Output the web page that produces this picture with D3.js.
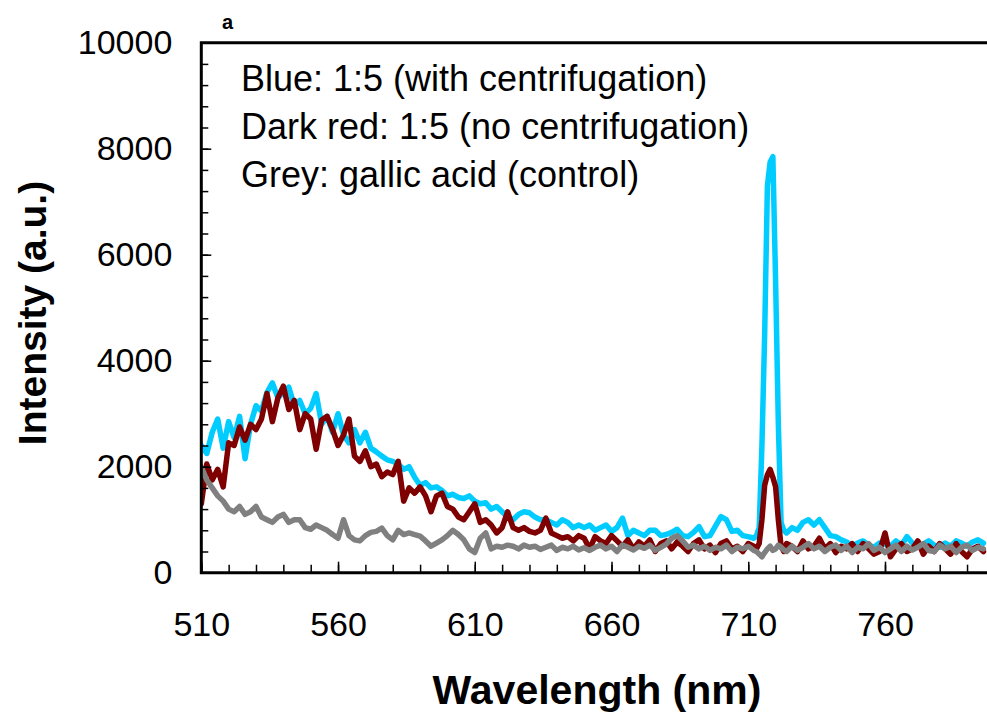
<!DOCTYPE html>
<html>
<head>
<meta charset="utf-8">
<title>Emission spectra</title>
<script src="https://cdn.jsdelivr.net/npm/d3@7"></script>
<style>
  body { margin: 0; background: #fff; }
  svg { display: block; font-family: Arial, "Liberation Sans", sans-serif; }
</style>
</head>
<body>
<div id="chart"></div>
<script>
// wavelength grid (nm): 2 nm steps, 1 nm steps around the 718 nm line
var wavelengths = d3.range(510, 712, 2).concat(d3.range(712, 724, 1), d3.range(724, 798, 2));

// Blue: 1:5 (with centrifugation)
var blueSeries = [
  2400, 2250, 2650, 2900, 2350, 2850, 2550, 2950, 2150, 2800,
  3150, 3050, 3400, 3580, 3300, 3400, 3500, 3150, 3250, 3000,
  3100, 3380, 2800, 2950, 2650, 3000, 2600, 2450, 2700, 2450,
  2650, 2350, 2280, 2200, 2130, 2100, 2050, 1950, 2000, 1800,
  1650, 1700, 1600, 1620, 1550, 1450, 1480, 1420, 1400, 1450,
  1350, 1300, 1320, 1200, 1250, 1150, 1050, 1000, 1100, 1150,
  1130, 1050, 1000, 1000, 950, 900, 1000, 950, 850, 900,
  850, 900, 800, 850, 900, 780, 850, 1030, 700, 800,
  750, 700, 800, 800, 700, 720, 760, 820, 700, 680,
  760, 870, 680, 700, 880, 1060, 1000, 780, 800, 700,
  680,
  // 712 .. 723
  650, 700, 850, 2400, 4500, 7300, 7750, 7850, 5500, 2800, 950, 800,
  // 724 .. 796
  750, 850, 800, 950, 1000, 900, 1000, 850, 700, 680,
  620, 580, 500, 560, 600, 520, 480, 560, 540, 500,
  600, 520, 680, 560, 500, 540, 600, 520, 480, 560,
  500, 600, 560, 500, 580, 620, 560
];

// Dark red: 1:5 (no centrifugation)
var redSeries = [
  1300, 2050, 1750, 1950, 1620, 2450, 2400, 2750, 2500, 2800,
  2700, 2900, 3380, 2850, 3300, 3520, 3080, 3250, 2700, 3000,
  2900, 2330, 2880, 2950, 2700, 2400, 2600, 2900, 2200, 2100,
  2300, 2000, 2050, 1810, 1900, 1850, 2100, 1350, 1600, 1500,
  1620, 1450, 1150, 1450, 1500, 1250, 1200, 1050, 1000, 1150,
  1300, 950, 1000, 900, 750, 850, 1150, 850, 800, 850,
  780, 750, 800, 1030, 750, 700, 650, 680, 600, 700,
  650, 450, 680, 600, 550, 700, 600, 500, 620, 450,
  580, 500, 620, 400, 550, 600, 450, 580, 500, 400,
  550, 620, 450, 520, 380, 550, 600, 450, 500, 400,
  550,
  // 712 .. 723
  500, 450, 550, 1000, 1650, 1850, 1950, 1800, 1620, 1000, 500, 400,
  // 724 .. 796
  550, 500, 400, 600, 450, 500, 650, 450, 550, 380,
  500, 450, 550, 400, 550, 450, 350, 400, 750, 300,
  450, 550, 400, 450, 600, 350, 500, 400, 550, 450,
  350, 550, 400, 300, 450, 500, 400
];

// Grey: gallic acid (control)
var greySeries = [
  2000, 1750, 1600, 1450, 1350, 1200, 1150, 1250, 1100, 1150,
  1250, 1050, 1000, 950, 1050, 1100, 950, 1000, 1000, 850,
  820, 900, 850, 800, 720, 650, 1000, 700, 620, 600,
  700, 760, 780, 840, 700, 620, 800, 720, 750, 720,
  690, 600, 500, 560, 620, 700, 800, 720, 620, 450,
  380, 650, 750, 450, 500, 480, 520, 500, 450, 520,
  480, 500, 440, 480, 520, 420, 480, 450, 500, 430,
  470, 420, 480, 520, 450, 500, 400, 520, 480, 430,
  500, 460, 520, 420, 480, 540, 650, 700, 600, 480,
  520, 450, 500, 420, 480, 450, 520, 400, 480, 450,
  500,
  // 712 .. 723
  420, 400, 350, 300, 380, 450, 500, 420, 450, 520, 480, 430,
  // 724 .. 796
  400, 500, 420, 480, 550, 450, 500, 400, 480, 520,
  420, 500, 380, 480, 450, 550, 420, 480, 380, 450,
  520, 400, 500, 430, 480, 550, 420, 400, 520, 450,
  500, 380, 480, 520, 420, 480, 450
];

var seriesList = [
  { name: "blue", values: blueSeries, color: "#00ccff" },
  { name: "darkred", values: redSeries, color: "#7f0000" },
  { name: "grey", values: greySeries, color: "#808080" }
];

var legendLines = [
  "Blue: 1:5 (with centrifugation)",
  "Dark red: 1:5 (no centrifugation)",
  "Grey: gallic acid (control)"
];

var xMajorTicks = [510, 560, 610, 660, 710, 760];
var xMinorTicks = d3.range(510, 797, 10);
var yMajorTicks = [0, 2000, 4000, 6000, 8000, 10000];
var yMinorTicks = d3.range(0, 10001, 400);

var w = 987, h = 719;
var plotLeft = 201.3, plotRight = 987, plotTop = 42.7, plotBottom = 572.7;

var x = d3.scaleLinear().domain([510, 797.3]).range([plotLeft, plotRight]);
var y = d3.scaleLinear().domain([0, 10000]).range([plotBottom, plotTop]);

var svg = d3.select("#chart").append("svg").attr("width", w).attr("height", h);

svg.append("clipPath").attr("id", "plotclip")
  .append("rect")
  .attr("x", plotLeft).attr("y", plotTop - 5)
  .attr("width", plotRight - plotLeft).attr("height", plotBottom - plotTop + 5);

// lines
var line = d3.line()
  .x(function(d, i) { return x(wavelengths[i]); })
  .y(function(d) { return y(d); });

svg.append("g").attr("clip-path", "url(#plotclip)")
  .selectAll("path")
  .data(seriesList)
  .enter()
  .append("path")
  .attr("d", function(s) { return line(s.values); })
  .attr("fill", "none")
  .attr("stroke", function(s) { return s.color; })
  .attr("stroke-width", 5.5)
  .attr("stroke-linejoin", "round")
  .attr("stroke-linecap", "round");

// inward ticks
function tickAxis(axis, translate, size) {
  var g = svg.append("g").attr("transform", translate).call(axis.tickSize(size).tickFormat(""));
  g.select(".domain").remove();
  g.selectAll("line").attr("stroke", "#000").attr("stroke-width", 1.5);
  return g;
}
tickAxis(d3.axisTop(x).tickValues(xMinorTicks), "translate(0," + plotBottom + ")", 8);
tickAxis(d3.axisTop(x).tickValues(xMajorTicks), "translate(0," + plotBottom + ")", 11);
tickAxis(d3.axisRight(y).tickValues(yMinorTicks), "translate(" + plotLeft + ",0)", 7);
tickAxis(d3.axisRight(y).tickValues(yMajorTicks), "translate(" + plotLeft + ",0)", 10);

// tick labels
var xLab = svg.append("g").attr("transform", "translate(0," + plotBottom + ")")
  .call(d3.axisBottom(x).tickValues(xMajorTicks).tickSize(0).tickPadding(39).tickFormat(d3.format("d")));
xLab.select(".domain").remove();
xLab.selectAll("text").attr("font-size", 34).attr("font-family", "Arial, 'Liberation Sans', sans-serif").attr("fill", "#000");

var yLab = svg.append("g").attr("transform", "translate(" + plotLeft + ",0)")
  .call(d3.axisLeft(y).tickValues(yMajorTicks).tickSize(0).tickPadding(29).tickFormat(d3.format("d")));
yLab.select(".domain").remove();
yLab.selectAll("text").attr("font-size", 34).attr("font-family", "Arial, 'Liberation Sans', sans-serif").attr("fill", "#000");

// frame: left, bottom, top
svg.append("path")
  .attr("d", "M" + plotRight + "," + plotTop + "H" + plotLeft + "V" + plotBottom + "H" + plotRight)
  .attr("fill", "none")
  .attr("stroke", "#000")
  .attr("stroke-width", 3);

// axis titles
svg.append("text")
  .attr("x", 597).attr("y", 704)
  .attr("text-anchor", "middle")
  .attr("font-size", 41).attr("font-weight", "bold")
  .text("Wavelength (nm)");

svg.append("text")
  .attr("transform", "translate(46,313) rotate(-90)")
  .attr("text-anchor", "middle")
  .attr("font-size", 39).attr("font-weight", "bold")
  .text("Intensity (a.u.)");

// panel letter
svg.append("text")
  .attr("x", 222).attr("y", 29)
  .attr("font-size", 20).attr("font-weight", "bold")
  .text("a");

// legend text
svg.selectAll(".legend")
  .data(legendLines)
  .enter()
  .append("text")
  .attr("class", "legend")
  .attr("x", 241)
  .attr("y", function(d, i) { return 91 + i * 48; })
  .attr("font-size", 36)
  .text(function(d) { return d; });
</script>
</body>
</html>
